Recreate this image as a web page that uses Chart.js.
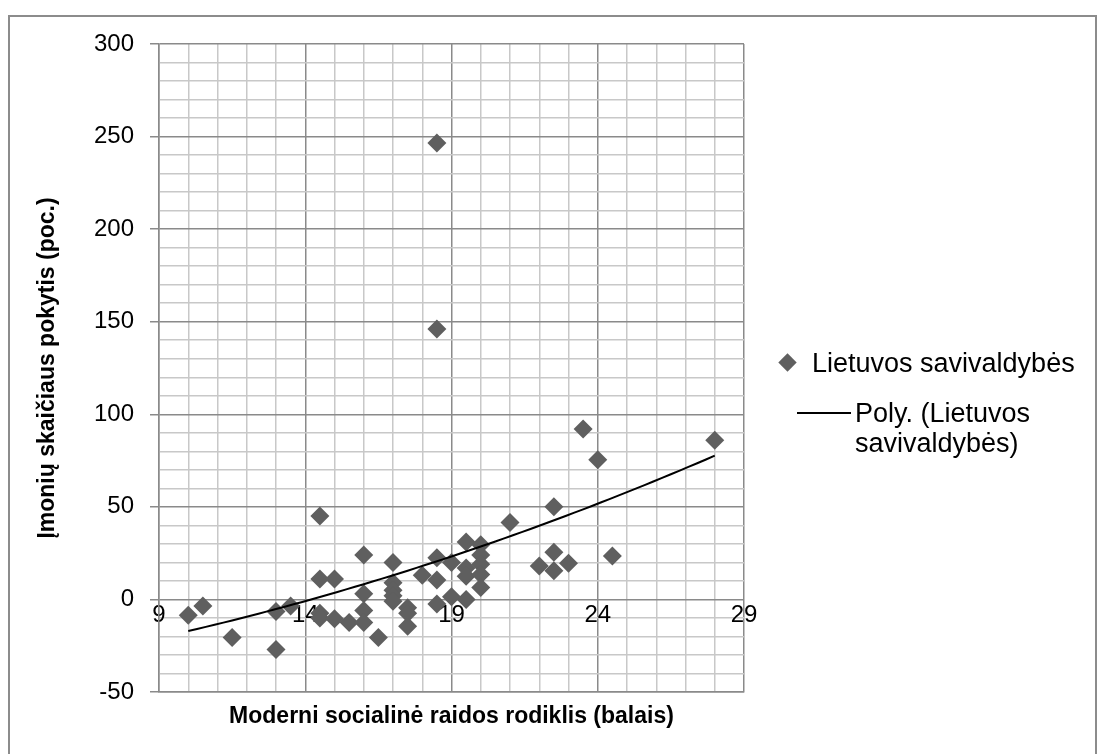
<!DOCTYPE html>
<html>
<head>
<meta charset="utf-8">
<script src="https://cdn.jsdelivr.net/npm/chart.js@4.4.1/dist/chart.umd.min.js"></script>
<style>
  body { margin: 0; background: #fff; width: 1099px; height: 754px; overflow: hidden; position: relative; font-family: "Liberation Sans", Arial, sans-serif; }
  #frame { position: absolute; left: 8px; top: 15px; width: 1089px; height: 760px; border: 2px solid #8c8c8c; box-sizing: border-box; }
  #c { position: absolute; left: 0; top: 0; }
  .lg { position: absolute; font-size: 27px; color: #000; line-height: 30px; white-space: nowrap; }
  #lgDiamond { position: absolute; left: 781px; top: 356px; width: 13px; height: 13px; background: #5f5f5f; transform: rotate(45deg); }
  #lgLine { position: absolute; left: 797px; top: 412px; width: 54px; height: 2px; background: #000; }
</style>
</head>
<body>
<div id="frame"></div>
<canvas id="c" width="1099" height="754"></canvas>
<div id="lgDiamond"></div>
<div class="lg" id="lg1" style="left:812px; top:348px;"></div>
<div id="lgLine"></div>
<div class="lg" id="lg2" style="left:855px; top:398px;"></div>

<script>
// Lietuvos savivaldybės: modernios raidos rodiklis (x) ir įmonių skaičiaus pokytis (y)
const xValues = [10, 10.5, 11.5, 13, 13, 13.5, 14.5, 14.5, 14.5, 14.5, 15, 15, 15.5, 16, 16, 16, 16, 16.5,
  17, 17, 17, 17, 17, 17.5, 17.5, 17.5, 18, 18.5, 18.5, 18.5, 18.5, 18.5, 19, 19, 19.5, 19.5, 19.5, 19.5,
  20, 20, 20, 20, 20, 21, 22, 22.5, 22.5, 22.5, 23, 23.5, 24, 24.5, 28];
const yValues = [-8.5, -3.5, -20.5, -27, -6.5, -3.5, 45, 11, -7.5, -10, 11, -10.5, -12.5, 24, 3, -6, -12.5, -20.5,
  20, 9, 5, 2, -1, -4.5, -7.5, -14.5, 13, 246.5, 146, 22.5, 10.5, -2.5, 20, 1.5, 31, 17, 12.5, 0,
  29.5, 24, 19, 13.5, 6.5, 41.5, 18, 50, 25.5, 15.5, 19.5, 92, 75.5, 23.5, 86];

const xTicks = [9, 14, 19, 24, 29];
const yTicks = [-50, 0, 50, 100, 150, 200, 250, 300];

const seriesName = "Lietuvos savivaldybės";
const trendName = "Poly. (Lietuvos savivaldybės)";
const xTitle = "Moderni socialinė raidos rodiklis (balais)";
const yTitle = "Įmonių skaičiaus pokytis (poc.)";

document.getElementById("lg1").textContent = seriesName;
document.getElementById("lg2").innerHTML = "Poly. (Lietuvos<br>savivaldybės)";

// 2-o laipsnio polinominė tendencija (mažiausių kvadratų metodas)
function polyFit2(xs, ys) {
  let s = [0, 0, 0, 0, 0], t = [0, 0, 0];
  for (let i = 0; i < xs.length; i++) {
    let p = 1;
    for (let k = 0; k < 5; k++) { s[k] += p; if (k < 3) t[k] += p * ys[i]; p *= xs[i]; }
  }
  const m = [[s[0], s[1], s[2], t[0]], [s[1], s[2], s[3], t[1]], [s[2], s[3], s[4], t[2]]];
  for (let i = 0; i < 3; i++) {
    for (let j = i + 1; j < 3; j++) {
      const f = m[j][i] / m[i][i];
      for (let k = i; k < 4; k++) m[j][k] -= f * m[i][k];
    }
  }
  const c = [0, 0, 0];
  for (let i = 2; i >= 0; i--) {
    let v = m[i][3];
    for (let k = i + 1; k < 3; k++) v -= m[i][k] * c[k];
    c[i] = v / m[i][i];
  }
  return c;
}

const coef = polyFit2(xValues, yValues);
const xMin = Math.min(...xValues), xMax = Math.max(...xValues);
const trendData = [];
for (let i = 0; i <= 60; i++) {
  const x = xMin + (xMax - xMin) * i / 60;
  trendData.push({ x, y: coef[0] + coef[1] * x + coef[2] * x * x });
}

const major = "#8a8a8a";
const minor = "#c8c8c8";
const tickFont = { family: "Liberation Sans", size: 24 };
const titleFont = { family: "Liberation Sans", size: 23, weight: "bold" };

new Chart(document.getElementById("c"), {
  type: "scatter",
  data: {
    datasets: [
      {
        label: trendName,
        data: trendData,
        showLine: true,
        borderColor: "#000",
        borderWidth: 2,
        pointRadius: 0,
        xAxisID: "x",
        yAxisID: "y",
      },
      {
        label: seriesName,
        data: xValues.map((x, i) => ({ x, y: yValues[i] })),
        pointStyle: "rectRot",
        pointRadius: 9.5,
        backgroundColor: "#5f5f5f",
        borderColor: "#5f5f5f",
        borderWidth: 0,
        xAxisID: "x",
        yAxisID: "y",
      },
    ],
  },
  options: {
    responsive: false,
    animation: false,
    devicePixelRatio: 1,
    layout: { padding: { left: 0, top: 44, right: 355, bottom: 0 } },
    plugins: { legend: { display: false }, tooltip: { enabled: false } },
    scales: {
      x: {
        type: "linear",
        position: "bottom",
        min: 9,
        max: 29,
        ticks: { stepSize: 1, display: false, autoSkip: false },
        grid: {
          drawTicks: false,
          lineWidth: 1.5,
          color: (c) => (xTicks.includes(c.tick.value) ? major : minor),
        },
        border: { color: major, width: 1.5 },
        title: { display: true, text: xTitle, font: titleFont, color: "#000", padding: { top: 0, bottom: 24 } },
        afterFit(s) { s.height = 62; },
      },
      x2: {
        type: "linear",
        axis: "x",
        position: { y: 0 },
        min: 9,
        max: 29,
        afterBuildTicks(s) { s.ticks = xTicks.map((v) => ({ value: v })); },
        ticks: { font: tickFont, color: "#000", padding: -6, autoSkip: false, maxRotation: 0 },
        grid: { display: false },
        border: { display: false },
      },
      y: {
        type: "linear",
        min: -50,
        max: 300,
        ticks: {
          stepSize: 10,
          autoSkip: false,
          font: tickFont,
          color: "#000",
          padding: 16,
          callback: (v) => (yTicks.includes(v) ? String(v) : ""),
        },
        grid: {
          lineWidth: 1.5,
          tickLength: 9,
          color: (c) => (yTicks.includes(c.tick.value) ? major : minor),
          tickColor: (c) => (yTicks.includes(c.tick.value) ? major : "rgba(0,0,0,0)"),
        },
        border: { color: major, width: 1.5 },
        title: { display: true, text: yTitle, font: titleFont, color: "#000", padding: { top: 34, bottom: 0 } },
        afterFit(s) { s.width = 159; },
      },
    },
  },
});
</script>
</body>
</html>
